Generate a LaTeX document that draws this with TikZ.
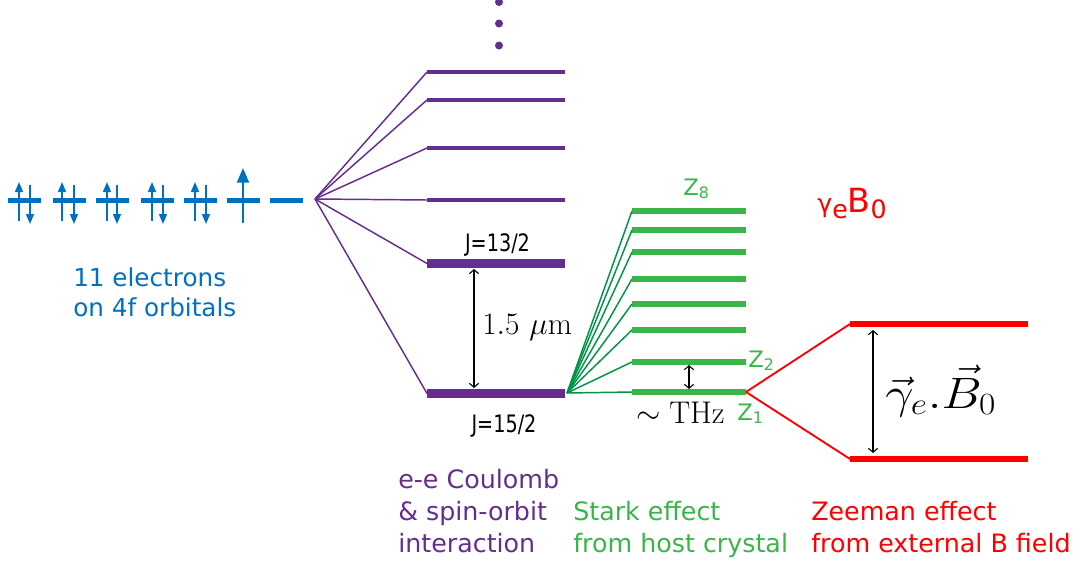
\documentclass[tikz,border=0pt]{standalone}
\usepackage{fix-cm}
\usepackage[no-math]{fontspec}
\setmainfont{DejaVu Sans}
\usetikzlibrary{arrows.meta}
\definecolor{eblue}{RGB}{0,112,192}
\definecolor{epurple}{RGB}{102,45,145}
\definecolor{egreen}{RGB}{57,181,74}
\definecolor{egreenline}{RGB}{0,148,68}
\definecolor{ered}{RGB}{255,0,0}
\newcommand\txtlines[1]{\begin{tabular}[t]{@{}l@{}}#1\end{tabular}}
\begin{document}
\begin{tikzpicture}[x=0.75pt,y=-0.75pt,
  orb/.style={eblue,line width=4pt},
  spinarrow/.style={eblue,line width=1.1pt,-{Triangle[width=6pt,length=7.5pt]}},
  bigspin/.style={eblue,line width=1.5pt,-{Triangle[width=9pt,length=11pt]}},
  plev/.style={epurple,line width=2.6pt},
  plevthick/.style={epurple,line width=6.5pt},
  plink/.style={epurple,line width=1.1pt},
  glev/.style={egreen,line width=5pt},
  glink/.style={egreenline,line width=1.1pt},
  rlev/.style={ered,line width=4.5pt},
  rlink/.style={ered,line width=1.4pt},
  gaparrow/.style={black,line width=0.8pt,{Straight Barb[length=3pt,width=7pt]}-{Straight Barb[length=3pt,width=7pt]}},
  dot/.style={circle,fill=epurple,inner sep=0pt,minimum size=6pt},
  lbl/.style={inner sep=0pt,anchor=base west},
]
\useasboundingbox (0,0) rectangle (1081,564);

% 4f orbitals
\foreach \x [count=\i] in {8,53,96,141,184,227,270} {
  \coordinate (o\i a) at (\x,200.5);
  \coordinate (o\i b) at (\x+33,200.5);
  \draw[orb] (o\i a) -- (o\i b);
}
\foreach \u/\d [count=\i] in {19/30,62/74,107/117,152/163,195/206} {
  \coordinate (u\i s) at (\u,221);
  \coordinate (u\i e) at (\u,182);
  \draw[spinarrow] (u\i s) -- (u\i e);
  \coordinate (d\i s) at (\d,185);
  \coordinate (d\i e) at (\d,224);
  \draw[spinarrow] (d\i s) -- (d\i e);
}
\coordinate (u6s) at (243,223);
\coordinate (u6e) at (243,168);
\draw[bigspin] (u6s) -- (u6e);

\node[lbl,eblue] (elec) at (73,286)
  {\fontsize{18.5}{22.5}\selectfont\txtlines{11 electrons\\on 4f orbitals}};

% J multiplets
\coordinate (P) at (315,199);
\foreach \y [count=\i] in {200,148,100,72} {
  \coordinate (J\i a) at (427,\y);
  \coordinate (J\i b) at (565,\y);
  \draw[plev] (J\i a) -- (J\i b);
  \draw[plink] (P) -- (J\i a);
}
\coordinate (J13a) at (427,263.5);
\coordinate (J13b) at (565,263.5);
\coordinate (J15a) at (427,393.5);
\coordinate (J15b) at (565,393.5);
\draw[plevthick] (J13a) -- (J13b);
\draw[plevthick] (J15a) -- (J15b);
\draw[plink] (P) -- (J13a);
\draw[plink] (P) -- (J15a);

\node[dot] (dot1) at (499,2) {};
\node[dot] (dot2) at (499,23.5) {};
\node[dot] (dot3) at (499,45.5) {};

\node[inner sep=0pt,anchor=base] (j13) at (497.5,251)
  {\fontsize{18}{20}\selectfont\scalebox{0.8}[1]{J=13/2}};
\node[inner sep=0pt,anchor=base] (j15) at (504,432)
  {\fontsize{18}{20}\selectfont\scalebox{0.8}[1]{J=15/2}};

\coordinate (g1t) at (474,269);
\coordinate (g1b) at (474,388);
\draw[gaparrow] (g1t) -- (g1b);
\node[lbl] (mu) at (482,334) {\fontsize{23.5}{26}\selectfont$1.5\ \mu\mathrm{m}$};

% Stark levels
\coordinate (S) at (567,393);
\foreach \y [count=\i] in {392,362,330,304,279,252,230,211} {
  \coordinate (Z\i a) at (632,\y);
  \coordinate (Z\i b) at (746,\y);
  \draw[glev] (Z\i a) -- (Z\i b);
  \draw[glink] (S) -- (Z\i a);
}
\node[lbl,egreen] (z8) at (683,195) {\fontsize{17}{18}\selectfont Z\textsubscript{8}};
\node[lbl,egreen] (z2) at (748,367) {\fontsize{17}{18}\selectfont Z\textsubscript{2}};
\node[lbl,egreen] (z1) at (737,420) {\fontsize{17}{18}\selectfont Z\textsubscript{1}};

\coordinate (g2t) at (689,365);
\coordinate (g2b) at (689,389);
\draw[gaparrow] (g2t) -- (g2b);
\node[lbl] (thz) at (636,423) {\fontsize{23.5}{26}\selectfont$\sim\mathrm{THz}$};

% Zeeman
\coordinate (Rua) at (850,324);
\coordinate (Rub) at (1028,324);
\coordinate (Rda) at (850,459);
\coordinate (Rdb) at (1028,459);
\draw[rlev] (Rua) -- (Rub);
\draw[rlev] (Rda) -- (Rdb);
\draw[rlink] (Z1b) -- (Rua);
\draw[rlink] (Z1b) -- (Rda);
\coordinate (g3t) at (873,330);
\coordinate (g3b) at (873,453);
\draw[gaparrow] (g3t) -- (g3b);
\node[lbl] (gb) at (885,408) {\fontsize{33}{36}\selectfont\scalebox{1.15}[1]{$\vec{\gamma}_e.\vec{B}_0$}};

\node[lbl,ered] (gamB) at (817,212)
  {\fontsize{19}{20}\selectfont γ\raisebox{-5pt}{e}\fontsize{25}{26}\selectfont B\fontsize{19}{20}\selectfont\raisebox{-5pt}{0}};

% bottom captions
\node[lbl,epurple] (cap1) at (398,488)
  {\fontsize{19}{24}\selectfont\txtlines{e-e Coulomb\\\& spin-orbit\\interaction}};
\node[lbl,egreen] (cap2) at (573,520)
  {\fontsize{19}{24}\selectfont\txtlines{Stark effect\\from host crystal}};
\node[lbl,ered] (cap3) at (811,520)
  {\fontsize{19}{24}\selectfont\txtlines{Zeeman effect\\from external B field}};
\end{tikzpicture}
\end{document}
